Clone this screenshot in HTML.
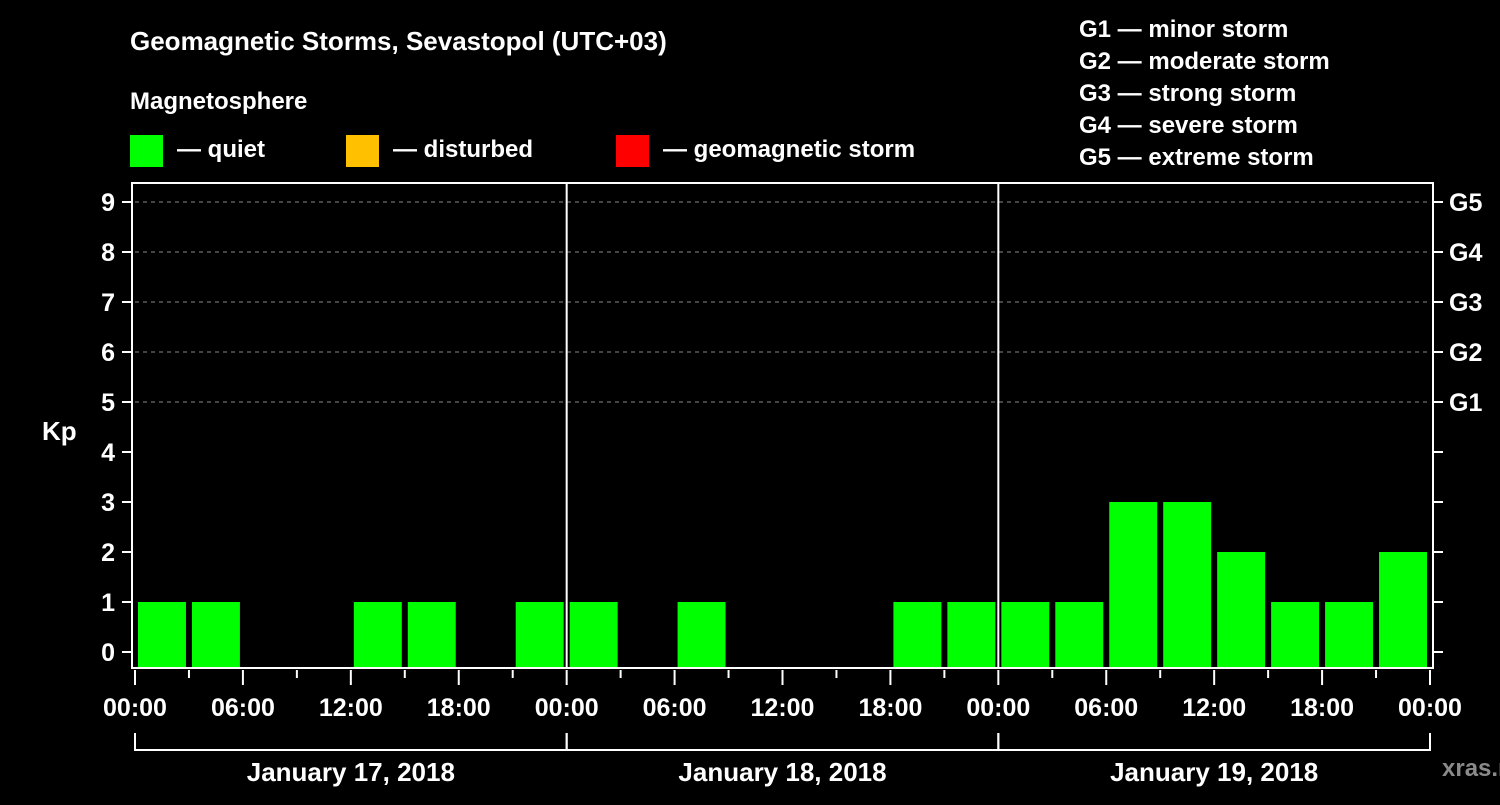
<!DOCTYPE html>
<html><head><meta charset="utf-8"><style>
body{margin:0;background:#000;}
svg text{font-family:"Liberation Sans",Arial,sans-serif;font-weight:bold;fill:#fff;}
</style></head><body>
<svg width="1500" height="800" viewBox="0 0 1500 800">
<rect width="1500" height="800" fill="#000"/>
<text x="130" y="50" font-size="26">Geomagnetic Storms, Sevastopol (UTC+03)</text>
<text x="130" y="109" font-size="24">Magnetosphere</text>
<g><rect x="130" y="135" width="33" height="32" fill="#00ff00"/><text x="177" y="157" font-size="24">— quiet</text></g>
<g><rect x="346" y="135" width="33" height="32" fill="#ffc000"/><text x="393" y="157" font-size="24">— disturbed</text></g>
<g><rect x="616" y="135" width="33" height="32" fill="#ff0000"/><text x="663" y="157" font-size="24">— geomagnetic storm</text></g>
<g font-size="24">
<text x="1079" y="37">G1 — minor storm</text>
<text x="1079" y="69">G2 — moderate storm</text>
<text x="1079" y="101">G3 — strong storm</text>
<text x="1079" y="133">G4 — severe storm</text>
<text x="1079" y="165">G5 — extreme storm</text>
</g>
<g id="grid"></g><g id="bars"></g><g id="axes"></g>
<text x="42" y="440" font-size="26">Kp</text>
<text x="1442" y="776" font-size="24" fill="#888" style="fill:#8a8a8a">xras.ru</text>
</svg>
<script>
const days = ["January 17, 2018","January 18, 2018","January 19, 2018"];
const kpValues = [1,1,0,0,1,1,0,1, 1,0,1,0,0,0,1,1, 1,1,3,3,2,1,1,2];
const yTicks = [0,1,2,3,4,5,6,7,8,9];
const gLabels = {5:"G1",6:"G2",7:"G3",8:"G4",9:"G5"};
const xLabels = ["00:00","06:00","12:00","18:00"];
const NS="http://www.w3.org/2000/svg";
const L=135,R=1430,T=183,B=668;
const dayW=(R-L)/days.length, slot=dayW/8;
const y=v=>652-v*50;
const x=h=>L+h*(dayW/24);
function mk(tag,attrs,parent,txt){const e=document.createElementNS(NS,tag);for(const k in attrs)e.setAttribute(k,attrs[k]);if(txt!==undefined)e.textContent=txt;document.getElementById(parent).appendChild(e);return e;}
yTicks.forEach(v=>{
  if(v>=5){const g=mk('line',{x1:L,x2:R,y1:y(v),y2:y(v),stroke:'#888','stroke-dasharray':'4,4','stroke-width':1},'grid');
  
  }
  const t=mk('line',{x1:122,x2:132,y1:y(v),y2:y(v),stroke:'#fff','stroke-width':2},'axes');
  
  
  const t2=mk('line',{x1:1433,x2:1443,y1:y(v),y2:y(v),stroke:'#fff','stroke-width':2},'axes');
  
  
  const l=mk('text',{x:115,y:y(v)+9,'font-size':25,'text-anchor':'end'},'axes',String(v));
  
  
  if(gLabels[v]){const g=mk('text',{x:1449,y:y(v)+9,'font-size':25},'axes',gLabels[v]);
  
  }
});
kpValues.forEach((v,i)=>{
  if(v<=0)return;
  const c=v>=5?'#ff0000':(v>=4?'#ffc000':'#00ff00');
  const b=mk('rect',{x:L+i*slot+3,y:y(v),width:slot-6,height:B-1-y(v),fill:c},'bars');
  
  
});
const frame=mk('rect',{x:132,y:T,width:1433-132,height:B-T,fill:'none',stroke:'#fff','stroke-width':2},'axes');


for(let d=0;d<days.length;d++){
  const x0=L+d*dayW;
  if(d>0){const s=mk('line',{x1:x0,x2:x0,y1:T,y2:B,stroke:'#fff','stroke-width':2},'axes');
  
  }
  for(let h=0;h<24;h+=3){
    const tk=mk('line',{x1:x(d*24+h),x2:x(d*24+h),y1:670,y2:h%6===0?685:678,stroke:'#fff','stroke-width':2},'axes');
    
    
  }
  xLabels.forEach((lb,k)=>{
    const t=mk('text',{x:x(d*24+k*6),y:716,'font-size':25,'text-anchor':'middle'},'axes',lb);
    
    
  });
  const br=mk('path',{d:`M${x0},733 V750 H${x0+dayW} V733`,fill:'none',stroke:'#fff','stroke-width':2},'axes');
  
  
  const dl=mk('text',{x:x0+dayW/2,y:781,'font-size':26,'text-anchor':'middle'},'axes',days[d]);
  
  
}
const lastTk=mk('line',{x1:R,x2:R,y1:670,y2:685,stroke:'#fff','stroke-width':2},'axes');


const lastLb=mk('text',{x:R,y:716,'font-size':25,'text-anchor':'middle'},'axes','00:00');


</script>
</body></html>
